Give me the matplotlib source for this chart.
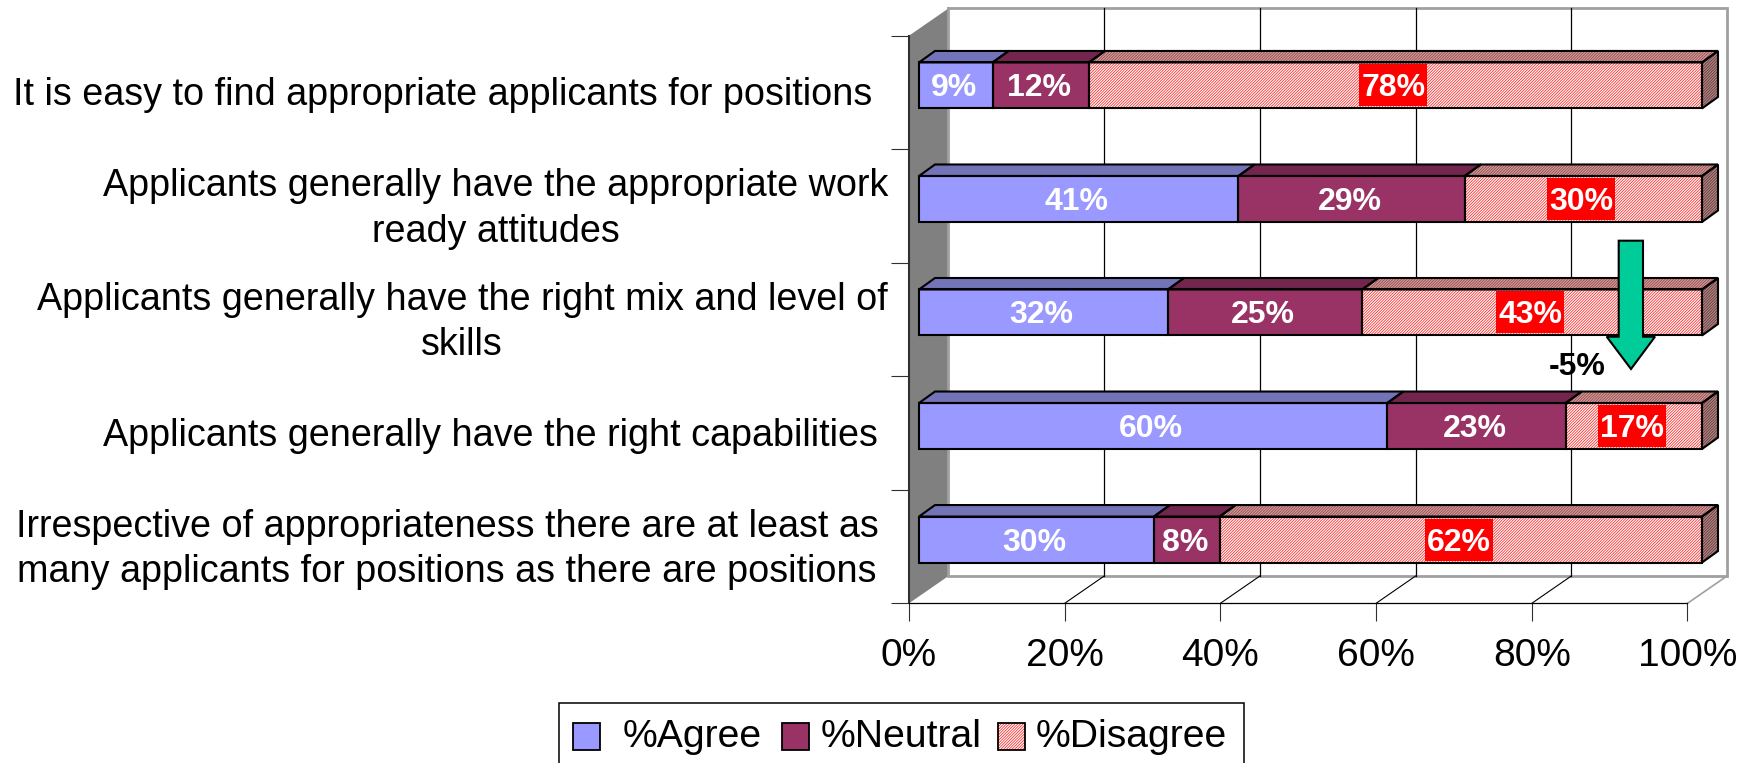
#!/usr/bin/python3
# -*- coding: utf-8 -*-
import matplotlib
matplotlib.use('Agg')
import matplotlib.pyplot as plt
from matplotlib.patches import Polygon, Rectangle

plt.rcParams['font.family'] = ['Liberation Sans', 'DejaVu Sans']
plt.rcParams['hatch.linewidth'] = 0.55

# data, top row first
categories = ['It is easy to find appropriate applicants for positions',
              'Applicants generally have the appropriate work\nready attitudes',
              'Applicants generally have the right mix and level of\nskills',
              'Applicants generally have the right capabilities',
              'Irrespective of appropriateness there are at least as\nmany applicants for positions as there are positions']
agree = [9.4, 40.8, 31.8, 59.8, 30]
neutral = [12.3, 28.9, 24.8, 22.8, 8.4]
disagree = [78.3, 30.3, 43.4, 17.4, 61.6]
series_names = ['%Agree', '%Neutral', '%Disagree']
xticks = [0, 20, 40, 60, 80, 100]
change_label = '-5%'

W, H = 1758, 763
# layout, in pixels of the picture
PLOT_L, PLOT_R, PLOT_T, PLOT_B = 909, 1687.5, 35.7, 603.3
DEPTH_X, DEPTH_Y = 39.5, 27.3
BAR_L, BAR_R = 919, 1702
BAR_H = 46
BAR_DX, BAR_DY = 16, 11.5
LABEL_CX = [443, 496, 462, 490, 447]
FONT = 27.15
HATCH = '/' * 12

AGREE = ['#9999ff', '#7373b8']
NEUTRAL = ['#993366', '#73264d']
EDGE = 'black'

fig = plt.figure(figsize=(W / 100, H / 100), dpi=100)
ax = fig.add_axes([PLOT_L / W, 1 - PLOT_B / H, (PLOT_R - PLOT_L) / W, (PLOT_B - PLOT_T) / H])
ax.set_xlim(0, 100)
ax.set_ylim(0, 5)
ax.patch.set_alpha(0)


def ux(px):
    # pixels along x -> data units
    return px * 100.0 / (PLOT_R - PLOT_L)


def uy(px):
    return px * 5.0 / (PLOT_B - PLOT_T)


def at(x_px, y_px):
    # picture pixels -> data coords
    return (ux(x_px - PLOT_L), uy(PLOT_B - y_px))


dx, dy = ux(DEPTH_X), uy(DEPTH_Y)

# walls and floor
ax.add_patch(Polygon([(0, 0), (dx, dy), (dx, 5 + dy), (0, 5)], closed=True, fc='#808080', ec='none',
                     clip_on=False, zorder=1))
ax.plot([dx, dx, 100 + dx, 100 + dx, dx], [5 + dy, dy, dy, 5 + dy, 5 + dy], color='#a0a0a0', lw=2,
        clip_on=False, zorder=1, solid_joinstyle='miter')
ax.plot([100, 100 + dx], [0, dy], color='#a0a0a0', lw=1.2, clip_on=False, zorder=1)
for t in xticks[1:-1]:
    ax.plot([t + dx, t + dx], [dy, 5 + dy], color='black', lw=0.9, clip_on=False, zorder=1.5)
    ax.plot([t, t + dx], [0, dy], color='black', lw=0.8, clip_on=False, zorder=1.5)

# real axes for ticks and front lines
ax.spines['top'].set_visible(False)
ax.spines['right'].set_visible(False)
ax.spines['left'].set_linewidth(1.5)
ax.spines['left'].set_color('#303030')
ax.spines['bottom'].set_linewidth(0.9)
ax.set_xticks(xticks)
ax.set_xticklabels([str(t) + '%' for t in xticks], fontsize=28)
ax.set_yticks(range(6))
ax.set_yticklabels([])
ax.tick_params(axis='both', length=13, width=0.8, color='#303030')
ax.tick_params(axis='x', pad=12)


def bar_x(v):
    return BAR_L + (BAR_R - BAR_L) * v / 100.0


def draw_segment(row, start, val, colors, hatched, z):
    cy = PLOT_T + (row + 0.5) * (PLOT_B - PLOT_T) / 5 - 7
    x0, x1 = bar_x(start), bar_x(start + val)
    y0, y1 = cy - BAR_H / 2, cy + BAR_H / 2
    front = [at(x0, y0), at(x1, y0), at(x1, y1), at(x0, y1)]
    top = [at(x0, y0), at(x0 + BAR_DX, y0 - BAR_DY), at(x1 + BAR_DX, y0 - BAR_DY), at(x1, y0)]
    side = [at(x1, y0), at(x1 + BAR_DX, y0 - BAR_DY), at(x1 + BAR_DX, y1 - BAR_DY), at(x1, y1)]
    faces = [top, front]
    if hatched:
        faces = [side, top, front]
        ax.add_patch(Polygon(side, closed=True, fc='#a88a8a', ec='#703030', hatch=HATCH, lw=0,
                             clip_on=False, zorder=z))
        ax.add_patch(Polygon(top, closed=True, fc='#c9a0a0', ec='#a04040', hatch=HATCH, lw=0,
                             clip_on=False, zorder=z))
        ax.add_patch(Polygon(front, closed=True, fc='white', ec='#ff2020', hatch=HATCH, lw=0,
                             clip_on=False, zorder=z))
    else:
        ax.add_patch(Polygon(top, closed=True, fc=colors[1], ec='none', clip_on=False, zorder=z))
        ax.add_patch(Polygon(front, closed=True, fc=colors[0], ec='none', clip_on=False, zorder=z))
    for f in faces:
        ax.add_patch(Polygon(f, closed=True, fill=False, ec=EDGE, lw=1.5, clip_on=False, zorder=z + 0.1,
                             joinstyle='miter'))
    # value label
    mid = (x0 + x1) / 2 - 2
    if hatched:
        ax.add_patch(Rectangle(at(mid - 34, cy + 21), ux(68), uy(42), fc='#ff0000', ec='none',
                               clip_on=False, zorder=z + 0.15))
    lx, ly = at(mid, cy + 11)
    ax.text(lx, ly, '%d%%' % round(val), color='white', fontsize=23, fontweight='bold', ha='center',
            va='baseline', clip_on=False, zorder=z + 0.2)


for i in range(len(categories)):
    z = 3 + i
    draw_segment(i, 0, agree[i], AGREE, False, z)
    draw_segment(i, agree[i], neutral[i], NEUTRAL, False, z)
    draw_segment(i, agree[i] + neutral[i], disagree[i], None, True, z)
    # category label
    lx, ly = at(LABEL_CX[i], PLOT_T + (i + 0.5) * (PLOT_B - PLOT_T) / 5 + 3)
    ax.text(lx, ly, categories[i], fontsize=FONT, ha='center', va='center', linespacing=1.34,
            multialignment='center', clip_on=False)

# change arrow
arrow = [(1618.7, 240.7), (1643, 240.7), (1643, 336.7), (1655, 336.7), (1631, 369), (1606.7, 336.7),
         (1618.7, 336.7)]
ax.add_patch(Polygon([at(x, y) for x, y in arrow], closed=True, fc='#00cc99', ec='black', lw=1.5,
                     clip_on=False, zorder=20, joinstyle='miter'))
lx, ly = at(1577, 367)
ax.text(lx, ly, change_label, fontsize=23, fontweight='bold', ha='center', va='center', clip_on=False, zorder=20)

# legend, box runs off the bottom of the picture
ax.add_patch(Rectangle(at(558.7, 800), ux(1244.3 - 558.7), uy(800 - 703.3), fc='white', ec='black', lw=1.1,
                       clip_on=False, zorder=21))
sw_x = [573, 782, 998]
txt_x = [623, 821, 1036]
for j in range(3):
    if j == 2:
        ax.add_patch(Rectangle(at(sw_x[j], 750), ux(27), uy(27), fc='white', ec='#ff2020', hatch=HATCH, lw=0,
                               clip_on=False, zorder=22))
        ax.add_patch(Rectangle(at(sw_x[j], 750), ux(27), uy(27), fill=False, ec=EDGE, lw=1.3,
                               clip_on=False, zorder=22.1))
    else:
        ax.add_patch(Rectangle(at(sw_x[j], 750), ux(27), uy(27), fc=[AGREE, NEUTRAL][j][0], ec=EDGE, lw=1.3,
                               clip_on=False, zorder=22))
    lx, ly = at(txt_x[j], 747)
    ax.text(lx, ly, series_names[j], fontsize=28.2, ha='left', va='baseline', clip_on=False, zorder=22)

fig.savefig('out.png', dpi=100, facecolor='white')
